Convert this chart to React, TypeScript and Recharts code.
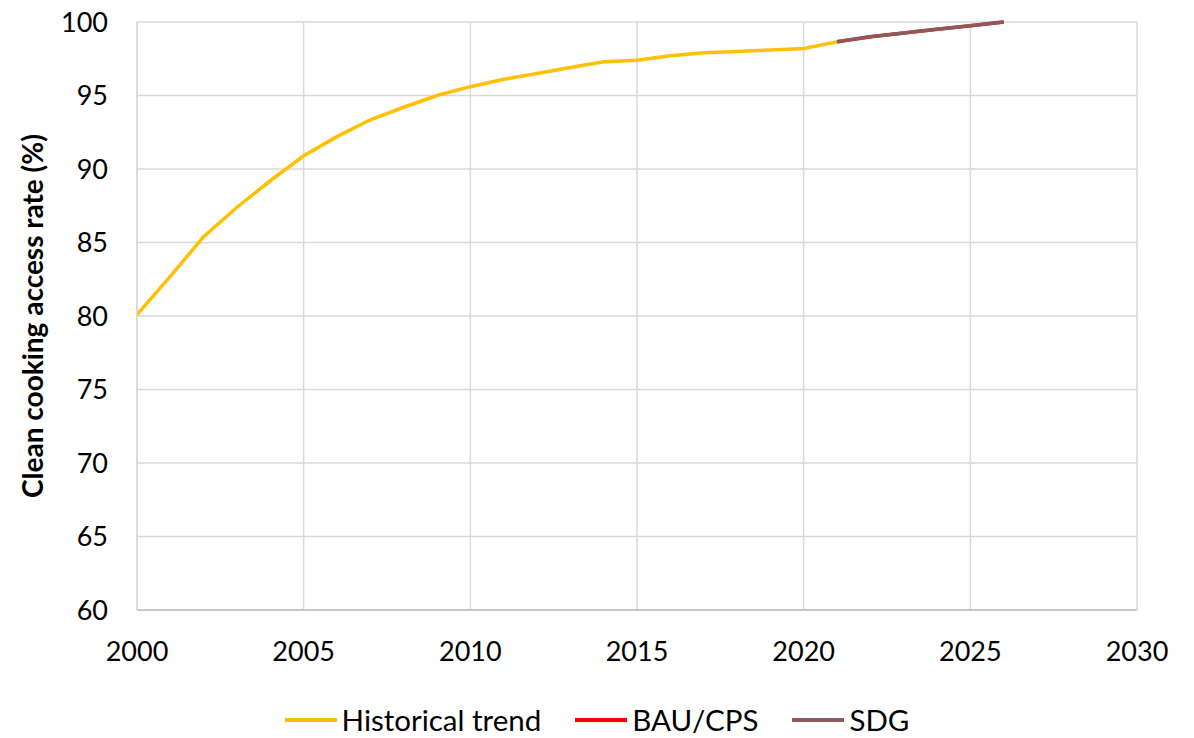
import React from "react";
import {
  LineChart,
  Line,
  XAxis,
  YAxis,
  CartesianGrid,
  Legend,
} from "recharts";

const years = [
  2000, 2001, 2002, 2003, 2004, 2005, 2006, 2007, 2008, 2009, 2010, 2011, 2012,
  2013, 2014, 2015, 2016, 2017, 2018, 2019, 2020, 2021, 2022, 2023, 2024, 2025,
  2026,
];

// 2000..2021
const historical = [
  80.1, 82.7, 85.4, 87.4, 89.2, 90.9, 92.2, 93.35, 94.2, 95.0, 95.6, 96.1,
  96.5, 96.9, 97.3, 97.4, 97.7, 97.9, 98.0, 98.1, 98.2, 98.65,
];

// 2021..2026
const bauCps = [98.65, 99.0, 99.25, 99.5, 99.75, 100];
const sdg = [98.65, 99.0, 99.25, 99.5, 99.75, 100];

const seriesNames = ["Historical trend", "BAU/CPS", "SDG"];
const xTicks = [2000, 2005, 2010, 2015, 2020, 2025, 2030];
const yTicks = [60, 65, 70, 75, 80, 85, 90, 95, 100];

const data = years.map((year, i) => ({
  year,
  historical: i < historical.length ? historical[i] : null,
  bau: i >= 21 ? bauCps[i - 21] : null,
  sdg: i >= 21 ? sdg[i - 21] : null,
}));

const FONT = "Lato, 'Open Sans', sans-serif";

const renderLegend = (props: any) => {
  const payload = [...props.payload].sort(
    (a: any, b: any) => seriesNames.indexOf(a.value) - seriesNames.indexOf(b.value)
  );
  return (
    <div
      style={{
        display: "flex",
        justifyContent: "center",
        alignItems: "center",
        fontFamily: FONT,
        fontSize: 29.5,
        color: "#000",
      }}
    >
      {payload.map((entry: any, i: number) => (
        <div
          key={entry.value}
          style={{
            display: "flex",
            alignItems: "center",
            marginRight: i < payload.length - 1 ? 34 : 0,
          }}
        >
          <span
            style={{
              display: "inline-block",
              width: 52,
              height: 4,
              background: entry.color,
              marginRight: 5,
            }}
          />
          <span>{entry.value}</span>
        </div>
      ))}
    </div>
  );
};

export default function App() {
  return (
    <div style={{ position: "absolute", left: 0, top: 0, background: "#fff" }}>
      <LineChart
        width={1194}
        height={738}
        data={data}
        margin={{ top: 22, right: 57, left: 0, bottom: 8 }}
      >
        <CartesianGrid stroke="#d9d9d9" strokeWidth={1.5} />
        <XAxis
          dataKey="year"
          type="number"
          domain={[2000, 2030]}
          ticks={xTicks}
          tickLine={false}
          tickSize={0}
          tickMargin={32}
          height={80}
          axisLine={{ stroke: "#bfbfbf", strokeWidth: 1.5 }}
          tick={{ fontSize: 27, fill: "#000", fontFamily: FONT }}
        />
        <YAxis
          type="number"
          domain={[60, 100]}
          ticks={yTicks}
          interval={0}
          width={137}
          tickLine={false}
          tickSize={0}
          tickMargin={29}
          axisLine={{ stroke: "#d9d9d9", strokeWidth: 1.5 }}
          tick={{ fontSize: 27, fill: "#000", fontFamily: FONT }}
          label={{
            value: "Clean cooking access rate (%)",
            angle: -90,
            position: "center",
            dx: -35,
            style: {
              fontSize: 28,
              fontWeight: 700,
              fill: "#000",
              fontFamily: FONT,
              textAnchor: "middle",
            },
          }}
        />
        <Legend
          verticalAlign="bottom"
          height={40}
          content={renderLegend}
          wrapperStyle={{ top: 702, bottom: "auto", left: 0, width: 1194 }}
        />
        <Line
          type="linear"
          dataKey="historical"
          name="Historical trend"
          stroke="#FFC000"
          strokeWidth={3.5}
          dot={false}
          isAnimationActive={false}
        />
        <Line
          type="linear"
          dataKey="bau"
          name="BAU/CPS"
          stroke="#FF0000"
          strokeWidth={3.5}
          dot={false}
          isAnimationActive={false}
        />
        <Line
          type="linear"
          dataKey="sdg"
          name="SDG"
          stroke="#8C5A5A"
          strokeWidth={3.5}
          dot={false}
          isAnimationActive={false}
        />
      </LineChart>
    </div>
  );
}
